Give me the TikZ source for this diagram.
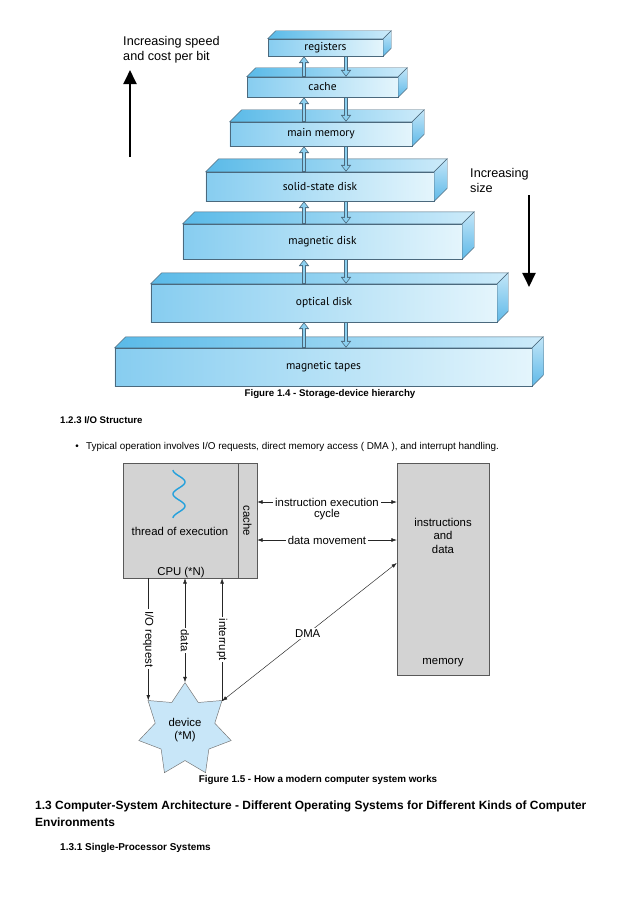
\documentclass[tikz,border=0pt]{standalone}
\usepackage{fontspec}
\setmainfont{Liberation Sans}
\newfontfamily\tierfont{PT Sans}
\usetikzlibrary{arrows.meta, shapes.geometric}

\definecolor{frontL}{RGB}{135,205,240}
\definecolor{frontR}{RGB}{228,245,252}
\definecolor{topL}{RGB}{90,186,232}
\definecolor{topR}{RGB}{205,235,250}
\definecolor{sideT}{RGB}{195,230,248}
\definecolor{sideB}{RGB}{95,185,232}
\definecolor{tieredge}{RGB}{75,105,125}
\definecolor{fatfill}{RGB}{140,208,240}
\definecolor{boxgray}{RGB}{211,211,211}
\definecolor{starblue}{RGB}{200,230,248}
\definecolor{wavecol}{RGB}{35,160,220}

\newcommand{\fsz}[2]{\fontsize{#1}{#2}\selectfont}

\begin{document}
\begin{tikzpicture}[x=0.03cm, y=-0.03cm, >={Latex[length=4.5pt, width=3.2pt]},
    tier/.style={draw=tieredge, left color=frontL, right color=frontR,
                 inner sep=0pt, font=\tierfont\fsz{9.8}{11}},
    topface/.style={draw=tieredge, left color=topL, right color=topR},
    sideface/.style={draw=tieredge, top color=sideT, bottom color=sideB},
    fatout/.style={line width=4.2pt, draw=tieredge, -{Triangle[length=5.8pt, width=8.5pt]}},
    fatin/.style={line width=2.4pt, draw=fatfill, shorten >=1.1pt, shorten <=0.4pt,
                  -{Triangle[length=4pt, width=6pt]}},
    bigarr/.style={line width=2.4pt, -{Triangle[length=12pt, width=11pt]}},
    gbox/.style={draw=black!65, fill=boxgray, inner sep=0pt},
    lbl/.style={font=\fsz{9.7}{11}, inner sep=0pt},
    onln/.style={font=\fsz{9.7}{11}, fill=white, inner sep=1.5pt},
    conn/.style={thin, draw=black!85},
    devstar/.style={star, star points=7, star point ratio=1.55, minimum size=2.84cm,
                    inner sep=0pt, draw=black!55, fill=starblue, align=center,
                    font=\fsz{9.7}{11.5}}]

  \fill[white] (0,0) rectangle (635,898);
  \useasboundingbox (0,0) rectangle (635,898);

  % ---------- Figure 1.4: storage hierarchy ----------
  \node[tier, minimum width=12.51cm, minimum height=1.14cm] (ttape)    at (323.5,367)  {magnetic tapes};
  \node[tier, minimum width=10.38cm, minimum height=1.14cm] (toptical) at (324,303)    {optical disk};
  \node[tier, minimum width=8.37cm,  minimum height=1.05cm] (tmdisk)   at (322.5,241.5) {magnetic disk};
  \node[tier, minimum width=6.84cm,  minimum height=0.87cm] (tssd)     at (320,186.5)  {solid-state disk};
  \node[tier, minimum width=5.46cm,  minimum height=0.72cm] (tmain)    at (321,134)    {main memory};
  \node[tier, minimum width=4.53cm,  minimum height=0.60cm] (tcache)   at (322.5,87)   {cache};
  \node[tier, minimum width=3.45cm,  minimum height=0.51cm] (treg)     at (325.5,47.5) {registers};

  % top and side faces
  \foreach \tr/\d in {treg/8, tcache/9, tmain/12, tssd/13, tmdisk/12, toptical/11, ttape/11} {
    \shadedraw[topface] (\tr.north west) -- ++(\d,-\d) -- ([shift={(\d,-\d)}]\tr.north east)
      -- (\tr.north east) -- cycle;
    \shadedraw[sideface] (\tr.north east) -- ++(\d,-\d) -- ([shift={(\d,-\d)}]\tr.south east)
      -- (\tr.south east) -- cycle;
  }

  % transfer arrows between levels
  \coordinate (upx) at (304,0);
  \coordinate (dnx) at (346,0);
  \foreach \lo/\hi in {tcache/treg, tmain/tcache, tssd/tmain, tmdisk/tssd, toptical/tmdisk, ttape/toptical} {
    \draw[fatout] (\lo.north -| upx) -- (\hi.south -| upx);
    \draw[fatin]  (\lo.north -| upx) -- (\hi.south -| upx);
    \draw[fatout] (\hi.south -| dnx) -- (\lo.north -| dnx);
    \draw[fatin]  (\hi.south -| dnx) -- (\lo.north -| dnx);
  }

  % side annotations
  \node[anchor=north west, align=left, inner sep=0pt, font=\fsz{10.8}{12.8}] (spd) at (123,36)
    {Increasing speed\\and cost per bit};
  \coordinate (spdlo) at (130,157);
  \coordinate (spdhi) at (130,70);
  \draw[bigarr] (spdlo) -- (spdhi);

  \node[anchor=north west, align=left, inner sep=0pt, font=\fsz{10.8}{12.8}] (siz) at (470,168)
    {Increasing\\size};
  \coordinate (sizhi) at (529,195);
  \coordinate (sizlo) at (529,287);
  \draw[bigarr] (sizhi) -- (sizlo);

  \node[anchor=base, inner sep=0pt, font=\bfseries\fsz{8.3}{10}] (cap4) at (330,396)
    {Figure 1.4 - Storage-device hierarchy};

  % ---------- text between figures ----------
  \node[anchor=base west, inner sep=0pt, font=\bfseries\fsz{8.2}{10}] (sec123) at (60,423)
    {1.2.3 I/O Structure};
  \node[anchor=base, inner sep=0pt, font=\fsz{8.4}{10}] (dot) at (77,449) {\textbullet};
  \node[anchor=base west, inner sep=0pt, font=\fsz{8.45}{10}] (bul) at (86,449)
    {Typical operation involves I/O requests, direct memory access ( DMA ), and interrupt handling.};

  % ---------- Figure 1.5: modern computer system ----------
  \node[gbox, minimum width=3.45cm, minimum height=3.45cm] (cpu) at (180.5,520.5) {};
  \node[gbox, minimum width=0.57cm, minimum height=3.45cm] (cpucache) at (247.5,520.5) {};
  \node[lbl, rotate=-90] (cachelbl) at (247.5,521) {cache};
  \draw[wavecol, line width=1.2pt] plot[domain=0:720, samples=90]
    ({179-6*cos(\x)}, {470+\x/720*48});
  \node[lbl, anchor=base] (thr) at (180,535) {thread of execution};
  \node[lbl, anchor=base] (cpulbl) at (181,575) {CPU (*N)};

  \node[gbox, minimum width=2.76cm, minimum height=6.36cm] (mem) at (443,569) {};
  \node[lbl, anchor=north, align=center, font=\fsz{9.7}{11.5}] (memtxt) at (443,518)
    {instructions\\and\\data};
  \node[lbl, anchor=base] (memlbl) at (443,664) {memory};

  \node[devstar] (dev) at (185,730) {device\\(*M)};

  \coordinate (row1) at (0,502);
  \coordinate (row2) at (0,540);
  \coordinate (dmaend) at (0,563);

  \draw[<->, conn] (cpucache.east |- row1) -- (mem.west |- row1)
    node[midway, onln] {instruction execution};
  \node[lbl, anchor=base] (cyc) at (327,517) {cycle};
  \draw[<->, conn] (cpucache.east |- row2) -- (mem.west |- row2)
    node[midway, onln] {data movement};
  \draw[<->, conn] (dev.38.57) -- (mem.west |- dmaend)
    node[pos=0.49, onln] {DMA};

  \draw[->, conn] (cpu.south -| dev.141.43) -- (dev.141.43)
    node[midway, onln, rotate=-90] {I/O request};
  \draw[<->, conn] (cpu.south -| dev.north) -- (dev.north)
    node[pos=0.6, onln, rotate=-90] {data};
  \draw[->, conn] (dev.38.57) -- (cpu.south -| dev.38.57)
    node[midway, onln, rotate=-90] {interrupt};

  \node[anchor=base, inner sep=0pt, font=\bfseries\fsz{8.4}{10}] (cap5) at (318,782)
    {Figure 1.5 - How a modern computer system works};

  % ---------- following section ----------
  \node[anchor=north west, align=left, inner sep=0pt, font=\bfseries\fsz{10.2}{14}] (sec13) at (35,801)
    {1.3 Computer-System Architecture - Different Operating Systems for Different Kinds of Computer\\Environments};
  \node[anchor=base west, inner sep=0pt, font=\bfseries\fsz{8.5}{10}] (sec131) at (60,850)
    {1.3.1 Single-Processor Systems};
\end{tikzpicture}
\end{document}
